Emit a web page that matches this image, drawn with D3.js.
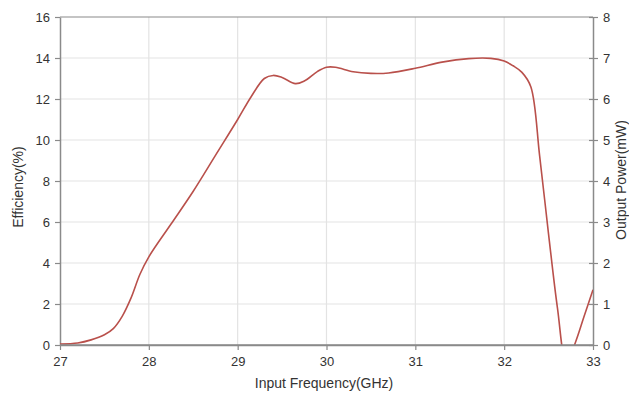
<!DOCTYPE html>
<html>
<head>
<meta charset="utf-8">
<script src="https://cdn.jsdelivr.net/npm/d3@7"></script>
<style>
  html, body { margin: 0; padding: 0; background: #fff; }
  svg { display: block; font-family: "Liberation Sans", Arial, sans-serif; }
</style>
</head>
<body>
<svg id="chart" width="629" height="394"></svg>
<script>
// Data
const frequency = [27.0, 27.2, 27.35, 27.5, 27.6, 27.7, 27.8, 27.9, 28.0, 28.25, 28.5, 28.75, 29.0, 29.15, 29.3, 29.4, 29.5, 29.65, 29.75, 29.9, 30.0, 30.1, 30.3, 30.5, 30.7, 31.0, 31.3, 31.6, 31.85, 32.0, 32.1, 32.2, 32.3, 32.4, 32.5, 32.6, 32.7, 32.8, 32.9, 33.0];
const efficiency = [0.05, 0.1, 0.25, 0.5, 0.8, 1.4, 2.3, 3.45, 4.3, 5.9, 7.5, 9.25, 11.0, 12.1, 13.0, 13.15, 13.05, 12.75, 12.88, 13.35, 13.55, 13.55, 13.33, 13.25, 13.27, 13.5, 13.8, 13.97, 13.98, 13.85, 13.62, 13.3, 12.6, 9.2, 5.4, 1.8, -0.9, 0.1, 1.4, 2.7];
const xTicks = [27, 28, 29, 30, 31, 32, 33];
const yLeftTicks = [0, 2, 4, 6, 8, 10, 12, 14, 16];
const yRightTicks = [0, 1, 2, 3, 4, 5, 6, 7, 8];
const xTitle = "Input Frequency(GHz)";
const yLeftTitle = "Efficiency(%)";
const yRightTitle = "Output Power(mW)";

const svg = d3.select("#chart");
const L = 60, R = 593, T = 17, B = 345;

const x = d3.scaleLinear().domain([27, 33]).range([L, R]);
const yL = d3.scaleLinear().domain([0, 16]).range([B, T]);
const yR = d3.scaleLinear().domain([0, 8]).range([B, T]);

const axisColor = "#8a8a8a";
const textColor = "#333";

// gridlines
svg.append("g").selectAll("line.h").data(yLeftTicks.slice(1, -1)).join("line")
  .attr("x1", L).attr("x2", R)
  .attr("y1", d => yL(d)).attr("y2", d => yL(d))
  .attr("stroke", "#e3e3e3").attr("stroke-width", 1.2);
svg.append("g").selectAll("line.v").data(xTicks.slice(1, -1)).join("line")
  .attr("y1", T).attr("y2", B)
  .attr("x1", d => x(d)).attr("x2", d => x(d))
  .attr("stroke", "#e3e3e3").attr("stroke-width", 1.2);

// top frame
svg.append("line").attr("x1", L).attr("x2", R).attr("y1", T).attr("y2", T)
  .attr("stroke", axisColor).attr("stroke-width", 1.2);

function styleAxis(g) {
  g.selectAll("path.domain").attr("stroke", axisColor).attr("stroke-width", 1.5);
  g.selectAll(".tick line").attr("stroke", axisColor).attr("stroke-width", 1.2);
  g.selectAll(".tick text").attr("fill", textColor).attr("font-size", 13)
    .attr("font-family", "'Liberation Sans', Arial, sans-serif");
}

// left axis
const gL = svg.append("g").attr("transform", `translate(${L},0)`)
  .call(d3.axisLeft(yL).tickValues(yLeftTicks).tickSize(5).tickSizeOuter(0).tickPadding(5).tickFormat(d3.format("d")));
styleAxis(gL);

// right axis
const gR = svg.append("g").attr("transform", `translate(${R},0)`)
  .call(d3.axisRight(yR).tickValues(yRightTicks).tickSize(5).tickSizeOuter(0).tickPadding(5).tickFormat(d3.format("d")));
styleAxis(gR);
gR.selectAll(".tick line").attr("x1", -4);

// bottom axis
const gB = svg.append("g").attr("transform", `translate(0,${B})`)
  .call(d3.axisBottom(x).tickValues(xTicks).tickSize(5).tickSizeOuter(0).tickPadding(7).tickFormat(d3.format("d")));
styleAxis(gB);

// clip
svg.append("clipPath").attr("id", "plotclip").append("rect")
  .attr("x", L).attr("y", T).attr("width", R - L).attr("height", B - T);

const data = frequency.map((f, i) => ({ f, e: efficiency[i] }));
const line = d3.line().x(d => x(d.f)).y(d => yL(d.e)).curve(d3.curveCatmullRom.alpha(0.5));
svg.append("path").datum(data)
  .attr("clip-path", "url(#plotclip)")
  .attr("d", line)
  .attr("fill", "none")
  .attr("stroke", "#b9504b")
  .attr("stroke-width", 1.6);

// redraw bottom domain on top of clipped line
svg.append("line").attr("x1", L).attr("x2", R).attr("y1", B).attr("y2", B)
  .attr("stroke", axisColor).attr("stroke-width", 1.5);

// titles
svg.append("text").attr("x", 324).attr("y", 388)
  .attr("text-anchor", "middle").attr("font-size", 14).attr("fill", textColor)
  .text(xTitle);
svg.append("text").attr("transform", `translate(23,${(T + B) / 2 + 6}) rotate(-90)`)
  .attr("text-anchor", "middle").attr("font-size", 14).attr("fill", textColor)
  .text(yLeftTitle);
svg.append("text").attr("transform", `translate(626,${(T + B) / 2 - 1}) rotate(-90)`)
  .attr("text-anchor", "middle").attr("font-size", 14).attr("fill", textColor)
  .text(yRightTitle);
</script>
</body>
</html>
